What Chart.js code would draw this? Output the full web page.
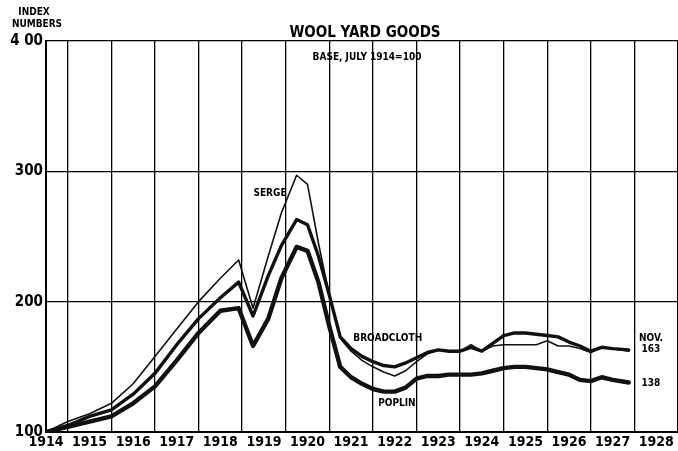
<!DOCTYPE html>
<html>
<head>
<meta charset="utf-8">
<script src="https://cdn.jsdelivr.net/npm/chart.js@4.4.0/dist/chart.umd.min.js"></script>
<style>
  html, body { margin: 0; padding: 0; background: #fff; }
  #wrap { width: 678px; height: 451px; }
</style>
</head>
<body>
<div id="wrap"><canvas id="wool-chart" width="678" height="451"></canvas></div>
<script>
// Dates as decimal years (July 1914 = 1914.5)
const dates = [
  1914.5, 1915.0, 1915.5, 1916.0, 1916.5, 1917.0, 1917.5, 1918.0, 1918.5, 1918.92,
  1919.25, 1919.6, 1919.9, 1920.25, 1920.5, 1920.75, 1921.0, 1921.25, 1921.5, 1921.75,
  1922.0, 1922.25, 1922.5, 1922.75, 1923.0, 1923.25, 1923.5, 1923.75, 1924.0, 1924.25,
  1924.5, 1924.75, 1925.0, 1925.25, 1925.5, 1925.75, 1926.0, 1926.25, 1926.5, 1926.75,
  1927.0, 1927.25, 1927.5, 1927.87
];
const serge = [
  100, 108, 114, 122, 137, 158, 179, 200, 218, 232,
  195, 235, 268, 297, 290, 245, 205, 172, 162, 155,
  150, 146, 143, 147, 154, 160, 163, 162, 162, 167,
  162, 166, 167, 167, 167, 167, 170, 166, 166, 164,
  161, 165, 164, 162
];
const broadcloth = [
  100, 105, 112, 117, 129, 145, 167, 187, 203, 215,
  189, 220, 243, 263, 259, 235, 205, 173, 164, 158,
  154, 151, 150, 153, 157, 161, 163, 162, 162, 165,
  162, 168, 174, 176, 176, 175, 174, 173, 169, 166,
  162, 165, 164, 163
];
const poplin = [
  100, 104, 108, 112, 122, 135, 155, 176, 193, 195,
  166, 187, 218, 242, 239, 215, 181, 150, 142, 137,
  133, 131, 131, 134, 141, 143, 143, 144, 144, 144,
  145, 147, 149, 150, 150, 149, 148, 146, 144, 140,
  139, 142, 140, 138
];
const yearTicks = [1915, 1916, 1917, 1918, 1919, 1920, 1921, 1922, 1923, 1924, 1925, 1926, 1927, 1928, 1929];
const indexTicks = [100, 200, 300, 400];

const FONT = '"DejaVu Sans Condensed", "Liberation Sans Narrow", "DejaVu Sans", sans-serif';

function toPoints(values) {
  return dates.map((d, i) => ({ x: d, y: values[i] }));
}

// Titles and line labels
const textPlugin = {
  id: 'woolText',
  afterDraw(chart) {
    const ctx = chart.ctx;
    const xs = chart.scales.x;
    const ys = chart.scales.y;
    const at = (yr, v) => [xs.getPixelForValue(yr), ys.getPixelForValue(v)];
    ctx.save();
    ctx.fillStyle = '#000';
    ctx.textAlign = 'center';
    ctx.textBaseline = 'middle';

    ctx.font = 'bold 10px ' + FONT;
    ctx.fillText('INDEX', 34, 12);
    ctx.fillText('NUMBERS', 37, 24);

    ctx.font = 'bold 15px ' + FONT;
    ctx.fillText('WOOL YARD GOODS', 365, 33);
    ctx.font = 'bold 10px ' + FONT;
    ctx.fillText('BASE, JULY 1914=100', 367, 57);

    ctx.font = 'bold 10px ' + FONT;
    ctx.fillText('SERGE', ...at(1919.64, 283));
    ctx.fillText('BROADCLOTH', ...at(1922.34, 171.5));
    ctx.fillText('POPLIN', ...at(1922.55, 122));
    ctx.fillText('NOV.', ...at(1928.38, 172));
    ctx.fillText('163', ...at(1928.38, 163));
    ctx.fillText('138', ...at(1928.38, 137.5));
    ctx.restore();
  }
};

const ctx = document.getElementById('wool-chart').getContext('2d');
new Chart(ctx, {
  type: 'line',
  data: {
    datasets: [
      { label: 'Serge', data: toPoints(serge), borderColor: '#111', borderWidth: 1.6 },
      { label: 'Broadcloth', data: toPoints(broadcloth), borderColor: '#111', borderWidth: 3.4 },
      { label: 'Poplin', data: toPoints(poplin), borderColor: '#111', borderWidth: 4.4 },
      // speckled look of the poplin line
      { label: 'Poplin texture', data: toPoints(poplin), borderColor: 'rgba(255,255,255,0.9)', borderWidth: 1, borderDash: [1.5, 2.5] }
    ]
  },
  options: {
    responsive: false,
    animation: false,
    devicePixelRatio: 1,
    layout: { padding: { top: 41, right: 0, bottom: 0, left: 0 } },
    elements: {
      point: { radius: 0 },
      line: { tension: 0, borderJoinStyle: 'round', borderCapStyle: 'round' }
    },
    plugins: {
      legend: { display: false },
      tooltip: { enabled: false }
    },
    scales: {
      x: {
        type: 'linear',
        min: 1914.5,
        max: 1929,
        afterBuildTicks: s => { s.ticks = yearTicks.map(v => ({ value: v })); },
        afterFit: s => { s.height = 19; s.paddingLeft = 0; s.paddingRight = 0; },
        ticks: {
          callback: v => String(v - 1),
          labelOffset: -21.8,
          autoSkip: false,
          maxRotation: 0,
          padding: 2,
          color: '#000',
          font: { family: FONT, size: 14, weight: 'bold' }
        },
        grid: { color: '#000', lineWidth: 1.3, drawTicks: false },
        border: { color: '#000', width: 2 }
      },
      y: {
        type: 'linear',
        min: 100,
        max: 400,
        afterBuildTicks: s => { s.ticks = indexTicks.map(v => ({ value: v })); },
        afterFit: s => { s.width = 46; s.paddingTop = 0; s.paddingBottom = 0; },
        ticks: {
          callback: v => v === 400 ? '4 00' : String(v),
          padding: 3,
          color: '#000',
          font: { family: FONT, size: 15, weight: 'bold' }
        },
        grid: { color: '#000', lineWidth: 1.3, drawTicks: false },
        border: { color: '#000', width: 2 }
      }
    }
  },
  plugins: [textPlugin]
});
</script>
</body>
</html>
